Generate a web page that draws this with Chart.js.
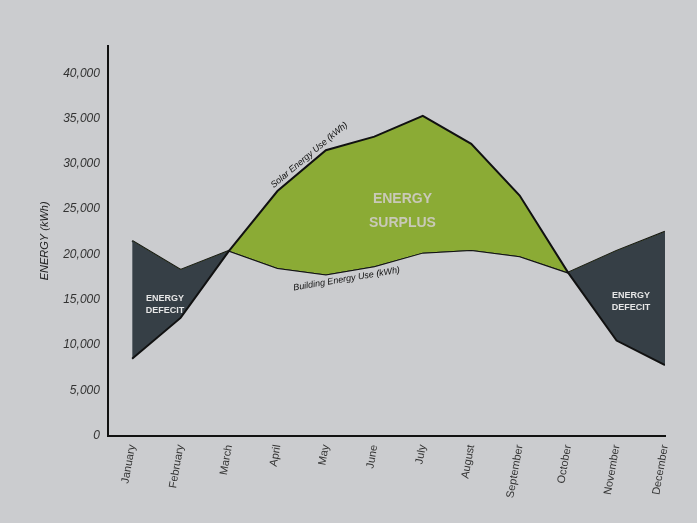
<!DOCTYPE html>
<html>
<head>
<meta charset="utf-8">
<script src="https://cdn.jsdelivr.net/npm/chart.js@4"></script>
<style>
  html, body { margin: 0; padding: 0; background: #cbcccf; }
  #wrap { width: 697px; height: 523px; }
</style>
</head>
<body>
<div id="wrap"><canvas id="myChart" width="697" height="523"></canvas></div>
<script>
// data
const months = ['January', 'February', 'March', 'April', 'May', 'June',
    'July', 'August', 'September', 'October', 'November', 'December'];
const solarUse = [8500, 13000, 20400, 27000, 31500, 33000, 35300, 32200, 26500, 18000, 10500, 7800];
const buildingUse = [21500, 18300, 20400, 18500, 17800, 18700, 20200, 20500, 19800, 18000, 20400, 22500];
const yTicks = [0, 5000, 10000, 15000, 20000, 25000, 30000, 35000, 40000];

const green = '#8bab35';
const slate = '#363f46';

// text written on the chart
const notes = {
    id: 'notes',
    afterDatasetsDraw(chart) {
        const ctx = chart.ctx;
        const x = chart.scales.x, y = chart.scales.y;
        ctx.save();
        ctx.textAlign = 'center';
        ctx.textBaseline = 'middle';

        // big area labels
        ctx.font = 'bold 14px "Liberation Sans Narrow", "Liberation Sans", Arial, sans-serif';
        ctx.fillStyle = '#c9c9b8';
        ctx.fillText('ENERGY', x.getPixelForValue(5.58), y.getPixelForValue(26100));
        ctx.fillText('SURPLUS', x.getPixelForValue(5.58), y.getPixelForValue(23500));

        ctx.font = 'bold 9px "Liberation Sans", Arial, sans-serif';
        ctx.fillStyle = '#e6e6e6';
        ctx.fillText('ENERGY', x.getPixelForValue(0.68), y.getPixelForValue(15100));
        ctx.fillText('DEFECIT', x.getPixelForValue(0.68), y.getPixelForValue(13800));
        ctx.fillText('ENERGY', x.getPixelForValue(10.3), y.getPixelForValue(15500));
        ctx.fillText('DEFECIT', x.getPixelForValue(10.3), y.getPixelForValue(14200));

        // line names, rotated along their segments
        ctx.fillStyle = '#111';
        ctx.font = 'italic 9px "Liberation Sans", Arial, sans-serif';
        const along = (txt, i, data, t, off) => {
            const x0 = x.getPixelForValue(i), y0 = y.getPixelForValue(data[i]);
            const x1 = x.getPixelForValue(i + 1), y1 = y.getPixelForValue(data[i + 1]);
            const a = Math.atan2(y1 - y0, x1 - x0);
            ctx.save();
            ctx.translate(x0 + (x1 - x0) * t, y0 + (y1 - y0) * t);
            ctx.rotate(a);
            ctx.fillText(txt, 0, off);
            ctx.restore();
        };
        along('Solar Energy Use (kWh)', 3, solarUse, 0.75, -7);
        along('Building Energy Use (kWh)', 4, buildingUse, 0.4, 8);
        ctx.restore();
    }
};

const toPoints = arr => arr.map((v, i) => ({ x: i, y: v }));

const config = {
    type: 'line',
    data: {
        datasets: [{
            label: 'Solar Energy Use (kWh)',
            data: toPoints(solarUse),
            borderColor: '#111',
            borderWidth: 2,
            pointRadius: 0,
            tension: 0,
            fill: { target: 1, above: green, below: slate }
        }, {
            label: 'Building Energy Use (kWh)',
            data: toPoints(buildingUse),
            borderColor: '#111',
            borderWidth: 2,
            pointRadius: 0,
            tension: 0,
            fill: false
        }]
    },
    options: {
        responsive: false,
        animation: false,
        layout: { padding: { top: 46, right: 32, bottom: 16, left: 34 } },
        plugins: {
            legend: { display: false },
            tooltip: { enabled: false }
        },
        scales: {
            x: {
                type: 'linear',
                min: -0.5,
                max: 11,
                grid: { display: false, drawTicks: false },
                border: { color: '#111', width: 2 },
                afterBuildTicks(axis) {
                    axis.ticks = months.map((m, i) => ({ value: i }));
                },
                ticks: {
                    minRotation: 80,
                    maxRotation: 80,
                    padding: 8,
                    color: '#333',
                    font: { family: '"Liberation Sans", Arial, sans-serif', size: 11 },
                    callback: v => months[v]
                }
            },
            y: {
                min: 0,
                max: 43000,
                grid: { display: false, drawTicks: false },
                border: { color: '#111', width: 2 },
                afterBuildTicks(axis) {
                    axis.ticks = yTicks.map(v => ({ value: v }));
                },
                ticks: {
                    padding: 8,
                    color: '#333',
                    font: { family: '"Liberation Sans", Arial, sans-serif', size: 12, style: 'italic' },
                    callback: v => v.toLocaleString('en-US')
                },
                title: {
                    display: true,
                    text: 'ENERGY (kWh)',
                    color: '#222',
                    padding: { bottom: 4 },
                    font: { family: '"Liberation Sans", Arial, sans-serif', size: 11, style: 'italic' }
                }
            }
        }
    },
    plugins: [notes]
};

const myChart = new Chart(document.getElementById('myChart'), config);
</script>
</body>
</html>
